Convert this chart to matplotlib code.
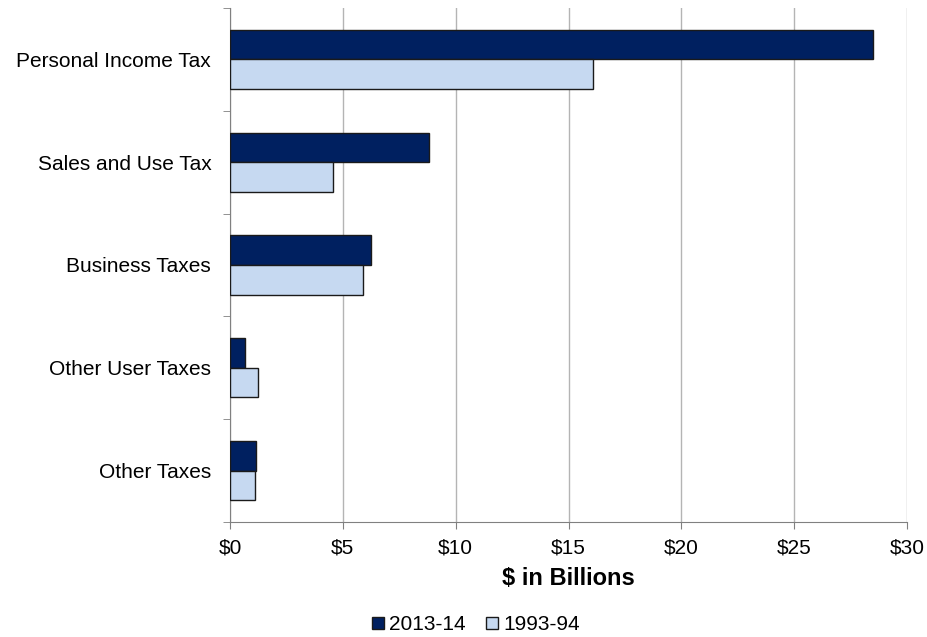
import matplotlib.pyplot as plt
import numpy as np

plt.rcParams['font.family'] = ['Liberation Sans', 'DejaVu Sans']

categories = ['Personal Income Tax', 'Sales and Use Tax', 'Business Taxes',
              'Other User Taxes', 'Other Taxes']
vals_2013 = [28.5, 8.82, 6.25, 0.68, 1.15]
vals_1993 = [16.07, 4.56, 5.88, 1.26, 1.11]
xticks = [0, 5, 10, 15, 20, 25, 30]

fig = plt.figure(figsize=(9.27, 6.37), dpi=100)
ax = fig.add_axes([230 / 927, 1 - 522 / 637, 677 / 927, 514 / 637])

n = len(categories)
pos = np.arange(n)[::-1]
h = 0.287
ax.barh(pos + h / 2, vals_2013, height=h, color='#002060', edgecolor='#1a1a1a',
        linewidth=1, label='2013-14', zorder=3)
ax.barh(pos - h / 2, vals_1993, height=h, color='#C6D9F1', edgecolor='#1a1a1a',
        linewidth=1, label='1993-94', zorder=3)

ax.set_xlim(0, 30)
ax.set_ylim(-0.5, n - 0.5)
ax.set_xticks(xticks)
ax.set_xticklabels(['$' + str(t) for t in xticks], fontsize=15)
ax.set_yticks(pos)
ax.set_yticklabels(categories, fontsize=15)
ax.set_yticks(np.arange(n + 1) - 0.5, minor=True)
ax.tick_params(axis='y', which='major', length=0, pad=13.5)
ax.tick_params(axis='y', which='minor', length=5, color='#808080')
ax.tick_params(axis='x', length=5, color='#808080', pad=7)
ax.xaxis.grid(True, color='#b4b4b4', linewidth=1, zorder=0)
for s in ['top', 'right']:
    ax.spines[s].set_visible(False)
for s in ['left', 'bottom']:
    ax.spines[s].set_color('#808080')
ax.set_xlabel('$ in Billions', fontsize=17, fontweight='bold', labelpad=7)

fig.legend(loc='center', bbox_to_anchor=(476 / 927, 1 - 625 / 637), ncol=2,
           frameon=False, fontsize=15, handlelength=0.55, handleheight=0.55,
           handletextpad=0.25, columnspacing=1.0)

fig.savefig('out.png', dpi=100)
